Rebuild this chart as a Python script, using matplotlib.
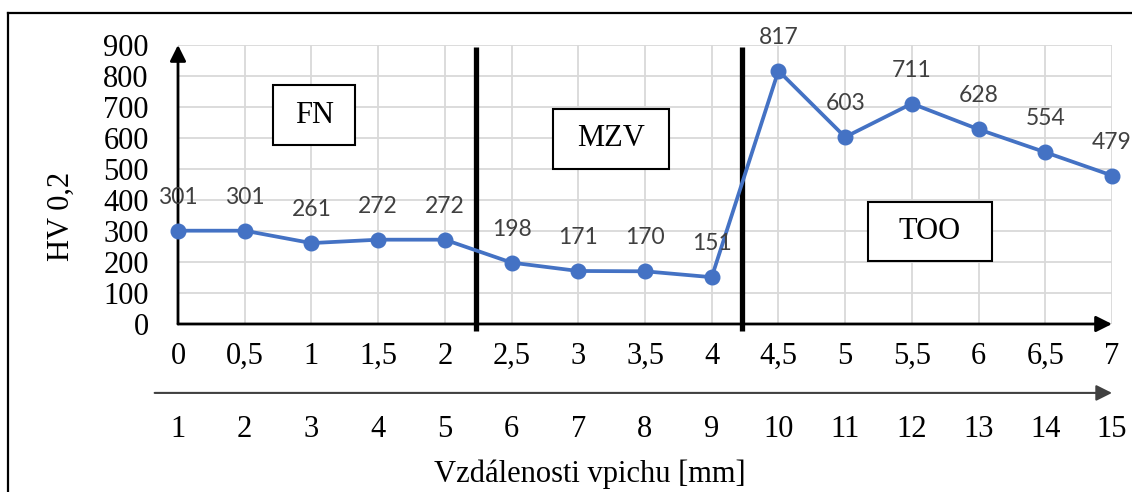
import matplotlib
matplotlib.use("Agg")
import matplotlib.pyplot as plt
from matplotlib.lines import Line2D
from matplotlib.patches import Rectangle
import matplotlib.transforms as mtransforms

# data
distance_mm = [0, 0.5, 1, 1.5, 2, 2.5, 3, 3.5, 4, 4.5, 5, 5.5, 6, 6.5, 7]
hardness = [301, 301, 261, 272, 272, 198, 171, 170, 151, 817, 603, 711, 628, 554, 479]
indent_no = list(range(1, 16))
x_tick_labels = ["0", "0,5", "1", "1,5", "2", "2,5", "3", "3,5", "4", "4,5",
                 "5", "5,5", "6", "6,5", "7"]
y_ticks = [0, 100, 200, 300, 400, 500, 600, 700, 800, 900]
zone_borders = [2.23, 4.23]
zone_names = ["FN", "MZV", "TOO"]
zone_boxes = [  # x0, x1, y0, y1 in data units
    (0.71, 1.33, 577, 771),
    (2.81, 3.68, 500, 694),
    (5.17, 6.10, 203, 394),
]

serif = "Liberation Serif"
line_color = "#4472C4"

fig = plt.figure(figsize=(11.32, 4.92), dpi=100)
ax = fig.add_axes([178 / 1132, 1 - 324 / 492, 934 / 1132, 279 / 492])

ax.set_xlim(0, 7)
ax.set_ylim(0, 900)
for s in ax.spines.values():
    s.set_visible(False)

ax.set_xticks(distance_mm)
ax.set_xticklabels(x_tick_labels, fontfamily=serif, fontsize=22)
ax.set_yticks(y_ticks)
ax.set_yticklabels([str(v) for v in y_ticks], fontfamily=serif, fontsize=22)
ax.tick_params(axis="x", length=0, pad=13)
ax.tick_params(axis="y", length=0, pad=21)
ax.grid(True, color="#d9d9d9", linewidth=1.3, zorder=0)
ax.set_axisbelow(True)

# axis arrows
arrow_kw = dict(arrowstyle="-|>", color="black", lw=2, mutation_scale=24,
                shrinkA=0, shrinkB=0)
ax.annotate("", xy=(1, 0), xytext=(0, 0), xycoords="axes fraction",
            arrowprops=arrow_kw, zorder=3)
ax.annotate("", xy=(0, 1), xytext=(0, 0), xycoords="axes fraction",
            arrowprops=arrow_kw, zorder=3)

# zone separators
ax.vlines(zone_borders, -23, 893, colors="black", linewidth=3.8,
          clip_on=False, zorder=4)

# data line
ax.plot(distance_mm, hardness, color=line_color, linewidth=2.7, marker="o",
        markersize=10.5, clip_on=False, zorder=5)
for x, y in zip(distance_mm, hardness):
    ax.annotate(str(y), (x, y), xytext=(0, 24), textcoords="offset points",
                ha="center", va="center", fontsize=16.5, fontfamily="Lato",
                color="#404040", zorder=6)

# zone boxes
for name, (x0, x1, y0, y1) in zip(zone_names, zone_boxes):
    ax.add_patch(Rectangle((x0, y0), x1 - x0, y1 - y0, facecolor="white",
                           edgecolor="black", linewidth=1.5, zorder=4))
    ax.text((x0 + x1) / 2, (y0 + y1) / 2, name, ha="center", va="center",
            fontfamily=serif, fontsize=22, zorder=5)

# second axis: indent number
ax.annotate("", xy=(1, -0.247), xytext=(-0.025, -0.247),
            xycoords="axes fraction",
            arrowprops=dict(arrowstyle="-|>", color="#404040", lw=1.5,
                            mutation_scale=24, shrinkA=0, shrinkB=0))
trans = mtransforms.blended_transform_factory(ax.transData, ax.transAxes)
for pos, n in zip(distance_mm, indent_no):
    ax.text(pos, -0.405, str(n), transform=trans, ha="center", va="baseline",
            fontfamily=serif, fontsize=22, clip_on=False)

fig.text(590 / 1132, 1 - 482 / 492, "Vzdálenosti vpichu [mm]", ha="center",
         va="baseline", fontfamily=serif, fontsize=22)
fig.text(61 / 1132, 1 - 216 / 492, "HV 0,2", ha="center", va="center",
         rotation=90, fontfamily=serif, fontsize=22)

# outer frame (top and left edges visible)
fig.add_artist(Line2D([8 / 1132, 1.0], [1 - 13 / 492] * 2, color="black",
                      linewidth=1.6, transform=fig.transFigure))
fig.add_artist(Line2D([8 / 1132] * 2, [0.0, 1 - 13 / 492], color="black",
                      linewidth=1.6, transform=fig.transFigure))

fig.savefig("out.png", dpi=100)
